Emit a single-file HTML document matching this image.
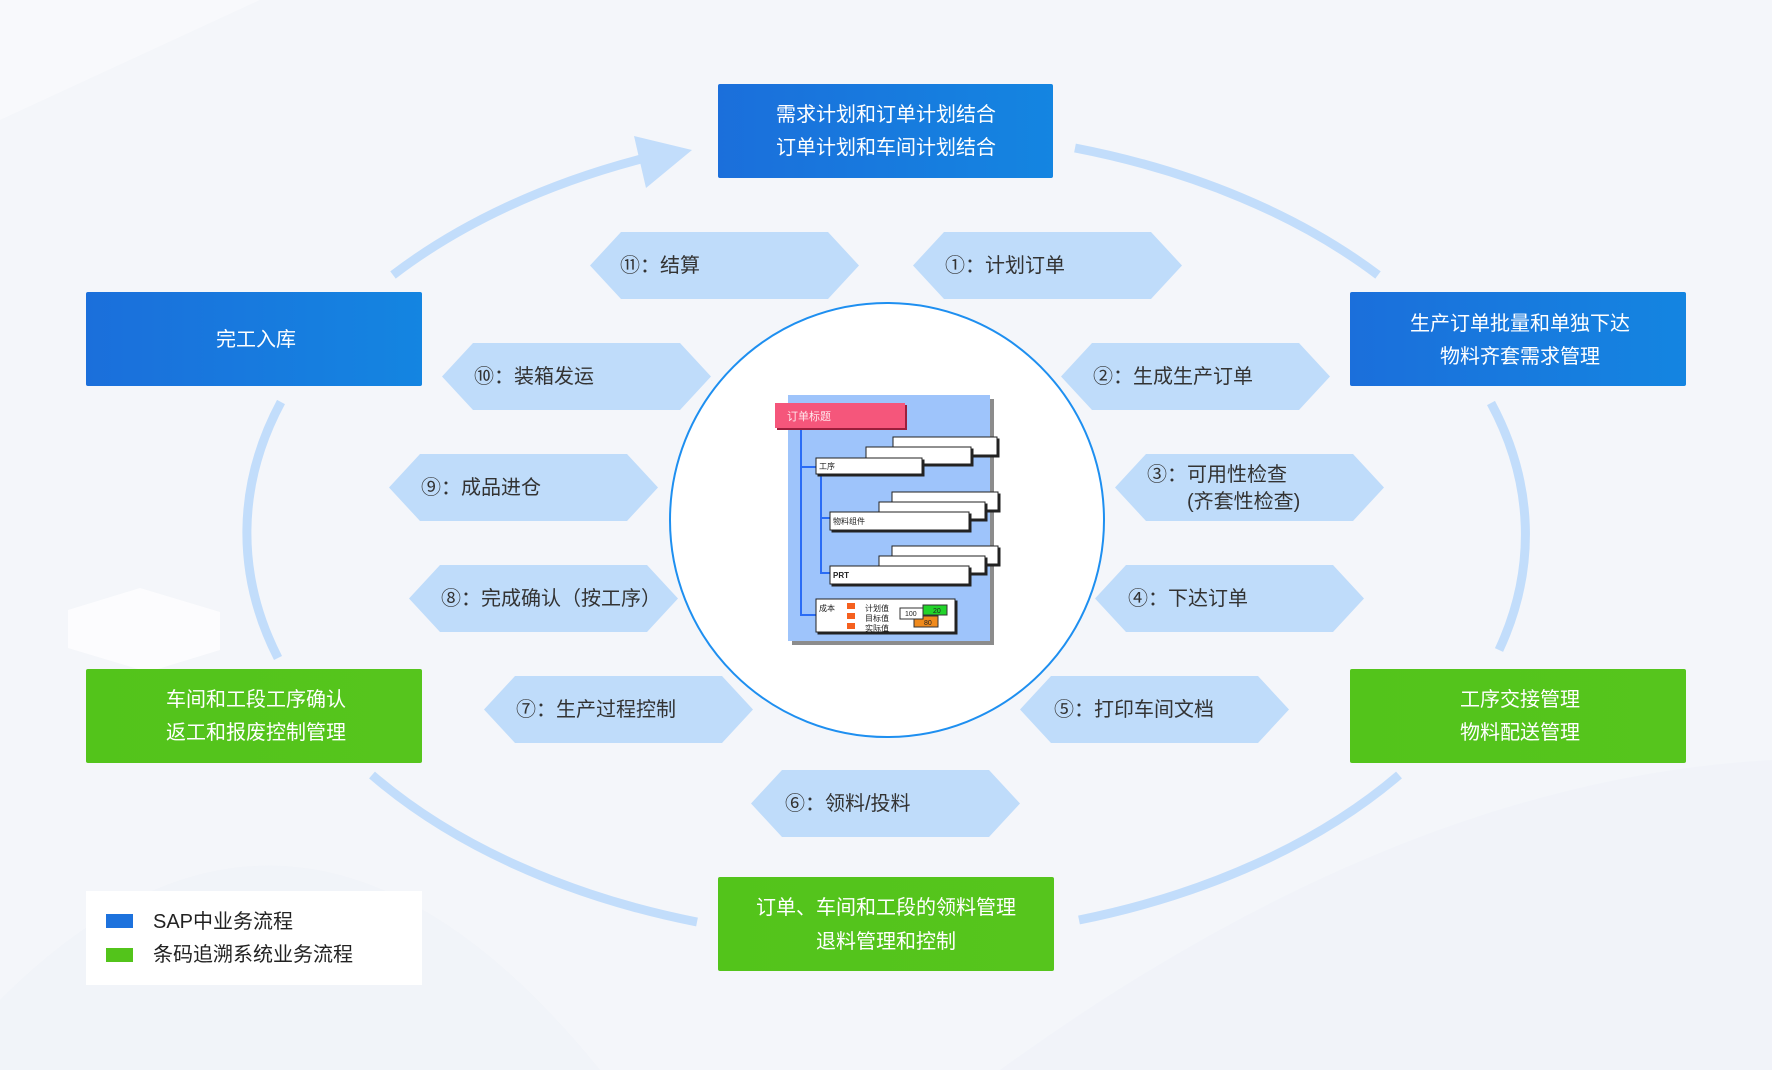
<!DOCTYPE html>
<html>
<head>
<meta charset="utf-8">
<style>
  html, body { margin:0; padding:0; background:#f4f6fa; }
  body { width:1772px; height:1070px; overflow:hidden; }
  svg { display:block; }
  text { font-family: "Liberation Sans", "Noto Sans CJK SC", "WenQuanYi Zen Hei", sans-serif; }
</style>
</head>
<body>
<svg width="1772" height="1070" viewBox="0 0 1772 1070" xmlns="http://www.w3.org/2000/svg">
  <defs>
    <linearGradient id="blueG" x1="0" y1="0" x2="1" y2="0">
      <stop offset="0" stop-color="#1b6fdb"/>
      <stop offset="1" stop-color="#1485e1"/>
    </linearGradient>
    <linearGradient id="greenG" x1="0" y1="0" x2="1" y2="0">
      <stop offset="0" stop-color="#53c41b"/>
      <stop offset="1" stop-color="#56c51d"/>
    </linearGradient>
    <radialGradient id="softW" cx="0.5" cy="0.5" r="0.5">
      <stop offset="0" stop-color="#ffffff" stop-opacity="0.6"/>
      <stop offset="1" stop-color="#ffffff" stop-opacity="0"/>
    </radialGradient>
  </defs>

  <!-- background -->
  <rect x="0" y="0" width="1772" height="1070" fill="#f4f6fa"/>
  <path d="M0 0 L260 0 L0 120 Z" fill="#ffffff" opacity="0.35"/>
  <path d="M1000 1070 Q1400 780 1772 760 L1772 1070 Z" fill="#eef2f8" opacity="0.6"/>
  <path d="M0 1000 Q300 700 600 1070 L0 1070 Z" fill="#eef2f7" opacity="0.5"/>
  <path d="M68 610 L140 588 L220 612 L220 650 L148 672 L68 648 Z" fill="#ffffff" opacity="0.7"/>

  <!-- ellipse arcs -->
  <g fill="none" stroke="#c2ddfb" stroke-width="9" stroke-linecap="butt">
    <path d="M393 275 A639 406 0 0 1 645 158"/>
    <path d="M1075 148 A639 406 0 0 1 1378 275"/>
    <path d="M1491 403 A639 406 0 0 1 1499 650"/>
    <path d="M1399 775 A639 406 0 0 1 1079 920"/>
    <path d="M697 922 A639 406 0 0 1 372 775"/>
    <path d="M278 658 A639 406 0 0 1 281 402"/>
  </g>
  <!-- arrowhead -->
  <polygon points="692,150 634,136 646,188" fill="#c2ddfb"/>

  <!-- hexagons -->
  <g fill="#bfdcfa">
    <polygon points="590,265.5 621,232 828,232 859,265.5 828,299 621,299"/>
    <polygon points="913,265.5 944,232 1151,232 1182,265.5 1151,299 944,299"/>
    <polygon points="442,376.5 473,343 680,343 711,376.5 680,410 473,410"/>
    <polygon points="1061,376.5 1092,343 1299,343 1330,376.5 1299,410 1092,410"/>
    <polygon points="389,487.5 420,454 627,454 658,487.5 627,521 420,521"/>
    <polygon points="1115,487.5 1146,454 1353,454 1384,487.5 1353,521 1146,521"/>
    <polygon points="409,598.5 440,565 647,565 678,598.5 647,632 440,632"/>
    <polygon points="1095,598.5 1126,565 1333,565 1364,598.5 1333,632 1126,632"/>
    <polygon points="484,709.5 515,676 722,676 753,709.5 722,743 515,743"/>
    <polygon points="1020,709.5 1051,676 1258,676 1289,709.5 1258,743 1051,743"/>
    <polygon points="751,803.5 782,770 989,770 1020,803.5 989,837 782,837"/>
  </g>
  <g font-size="20" fill="#333333" dominant-baseline="central">
    <text x="620" y="266">⑪：结算</text>
    <text x="945" y="266">①：计划订单</text>
    <text x="474" y="377">⑩：装箱发运</text>
    <text x="1093" y="377">②：生成生产订单</text>
    <text x="421" y="488">⑨：成品进仓</text>
    <text x="1147" y="475">③：可用性检查</text>
    <text x="1187" y="502">(齐套性检查)</text>
    <text x="441" y="599">⑧：完成确认（按工序）</text>
    <text x="1128" y="599">④：下达订单</text>
    <text x="516" y="710">⑦：生产过程控制</text>
    <text x="1054" y="710">⑤：打印车间文档</text>
    <text x="785" y="804">⑥：领料/投料</text>
  </g>

  <!-- main boxes -->
  <rect x="718" y="84" width="335" height="94" rx="2" fill="url(#blueG)"/>
  <rect x="86" y="292" width="336" height="94" rx="2" fill="url(#blueG)"/>
  <rect x="1350" y="292" width="336" height="94" rx="2" fill="url(#blueG)"/>
  <rect x="86" y="669" width="336" height="94" rx="2" fill="url(#greenG)"/>
  <rect x="1350" y="669" width="336" height="94" rx="2" fill="url(#greenG)"/>
  <rect x="718" y="877" width="336" height="94" rx="2" fill="url(#greenG)"/>

  <g font-size="20" fill="#ffffff" text-anchor="middle" dominant-baseline="central">
    <text x="886" y="115">需求计划和订单计划结合</text>
    <text x="886" y="148">订单计划和车间计划结合</text>
    <text x="256" y="340">完工入库</text>
    <text x="1520" y="324">生产订单批量和单独下达</text>
    <text x="1520" y="357">物料齐套需求管理</text>
    <text x="256" y="700">车间和工段工序确认</text>
    <text x="256" y="733">返工和报废控制管理</text>
    <text x="1520" y="700">工序交接管理</text>
    <text x="1520" y="733">物料配送管理</text>
    <text x="886" y="908">订单、车间和工段的领料管理</text>
    <text x="886" y="942">退料管理和控制</text>
  </g>

  <!-- legend -->
  <rect x="86" y="891" width="336" height="94" fill="#ffffff"/>
  <rect x="106" y="914" width="27" height="14" fill="#1d72dd"/>
  <rect x="106" y="948" width="27" height="14" fill="#53c41b"/>
  <g font-size="20" fill="#222222" dominant-baseline="central">
    <text x="153" y="922">SAP中业务流程</text>
    <text x="153" y="955">条码追溯系统业务流程</text>
  </g>

  <!-- center circle -->
  <circle cx="887" cy="520" r="217" fill="#ffffff" stroke="#1e8ff0" stroke-width="2"/>

  <!-- center illustration -->
  <g>
    <rect x="792" y="399" width="202" height="246" fill="#8c8c8c"/>
    <rect x="788" y="395" width="202" height="246" fill="#9ec4fb"/>

    <!-- connectors -->
    <g stroke="#2a6cf5" stroke-width="2" fill="none">
      <path d="M801 428 V615 H817"/>
      <path d="M801 467 H817"/>
      <path d="M821 473 V573 H831"/>
      <path d="M821 518 H831"/>
    </g>

    <!-- group 1 -->
    <g stroke="#222" stroke-width="1">
      <rect x="895" y="439" width="104" height="18" fill="#222"/>
      <rect x="893" y="437" width="104" height="18" fill="#fff"/>
      <rect x="868" y="449" width="105" height="17" fill="#222"/>
      <rect x="866" y="447" width="105" height="17" fill="#fff"/>
      <rect x="818" y="460" width="106" height="16" fill="#222"/>
      <rect x="816" y="458" width="106" height="16" fill="#fff"/>

      <rect x="894" y="494" width="106" height="18" fill="#222"/>
      <rect x="892" y="492" width="106" height="18" fill="#fff"/>
      <rect x="881" y="504" width="106" height="17" fill="#222"/>
      <rect x="879" y="502" width="106" height="17" fill="#fff"/>
      <rect x="832" y="514" width="139" height="18" fill="#222"/>
      <rect x="830" y="512" width="139" height="18" fill="#fff"/>

      <rect x="894" y="548" width="106" height="18" fill="#222"/>
      <rect x="892" y="546" width="106" height="18" fill="#fff"/>
      <rect x="881" y="558" width="106" height="17" fill="#222"/>
      <rect x="879" y="556" width="106" height="17" fill="#fff"/>
      <rect x="832" y="568" width="139" height="18" fill="#222"/>
      <rect x="830" y="566" width="139" height="18" fill="#fff"/>

      <rect x="818" y="601" width="139" height="33" fill="#222"/>
      <rect x="816" y="599" width="139" height="33" fill="#fff"/>
    </g>

    <!-- pink header -->
    <rect x="777" y="405" width="130" height="25" fill="#9b1f3c"/>
    <rect x="775" y="403" width="130" height="25" fill="#f5567b"/>
    <text x="787" y="420" font-size="11" fill="#ffe6ec">订单标题</text>

    <g font-size="8" fill="#222">
      <text x="819" y="469">工序</text>
      <text x="833" y="524">物料组件</text>
      <text x="833" y="578" font-weight="bold">PRT</text>
      <text x="819" y="611">成本</text>
      <text x="865" y="611">计划值</text>
      <text x="865" y="621">目标值</text>
      <text x="865" y="631">实际值</text>
    </g>
    <rect x="847" y="603" width="8" height="6" fill="#f5601f"/>
    <rect x="847" y="613" width="8" height="6" fill="#f5601f"/>
    <rect x="847" y="623" width="8" height="6" fill="#f5601f"/>
    <rect x="914" y="616" width="24" height="11" fill="#f08a1c" stroke="#333" stroke-width="1"/>
    <rect x="923" y="605" width="24" height="10" fill="#22d42a" stroke="#333" stroke-width="1"/>
    <rect x="900" y="608" width="23" height="11" fill="#ffffff" stroke="#333" stroke-width="1"/>
    <g font-size="7" fill="#222">
      <text x="905" y="616">100</text>
      <text x="933" y="613">20</text>
      <text x="924" y="625">80</text>
    </g>
  </g>
</svg>
</body>
</html>
